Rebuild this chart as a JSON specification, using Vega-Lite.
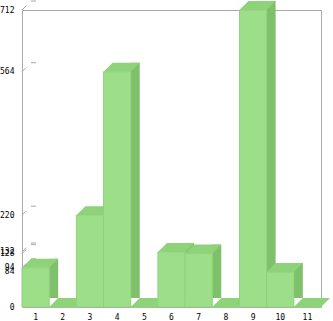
{
  "$schema": "https://vega.github.io/schema/vega-lite/v6.json",
  "width": 299,
  "height": 297,
  "autosize": {"type": "none"},
  "padding": {"left": 22, "top": 10, "right": 12, "bottom": 14},
  "background": "white",
  "config": {
    "view": {"stroke": "#aaaaaa", "strokeWidth": 1},
    "axis": {"ticks": false, "domain": false, "grid": false, "labelFont": "DejaVu Sans Mono", "labelFontSize": 8, "labelColor": "#000000"}
  },
  "datasets": {
    "bars": [
      {"cat": 1, "value": 94},
      {"cat": 2, "value": 0},
      {"cat": 3, "value": 220},
      {"cat": 4, "value": 564},
      {"cat": 5, "value": 0},
      {"cat": 6, "value": 132},
      {"cat": 7, "value": 128},
      {"cat": 8, "value": 0},
      {"cat": 9, "value": 712},
      {"cat": 10, "value": 84},
      {"cat": 11, "value": 0}
    ],
    "ticks": [
      {"v": 0}, {"v": 84}, {"v": 94}, {"v": 128}, {"v": 132}, {"v": 220}, {"v": 564}, {"v": 712}
    ]
  },
  "resolve": {"scale": {"x": "independent"}},
  "layer": [
    {
      "mark": {"type": "rect", "fill": null, "stroke": "#aaaaaa", "strokeWidth": 1, "xOffset": 9, "x2Offset": 9, "yOffset": -9, "y2Offset": -9},
      "encoding": {
        "x": {"datum": 0, "type": "quantitative", "scale": {"domain": [0, 11]}, "axis": null},
        "x2": {"datum": 11},
        "y": {"datum": 0, "type": "quantitative", "scale": {"domain": [0, 712], "nice": false}, "axis": {"title": null, "values": [0, 84, 94, 128, 132, 220, 564, 712], "labelOverlap": false, "labelFlush": false, "labelPadding": 8}},
        "y2": {"datum": 712}
      }
    },
    {
      "data": {"name": "ticks"},
      "mark": {"type": "rule", "stroke": "#aaaaaa", "strokeWidth": 1, "strokeDash": [6, 60], "x2Offset": 9, "y2Offset": -9},
      "encoding": {
        "x": {"datum": 0, "type": "quantitative", "scale": {"domain": [0, 11]}, "axis": null},
        "x2": {"datum": 0},
        "y": {"field": "v", "type": "quantitative", "axis": {"title": null, "values": [0, 84, 94, 128, 132, 220, 564, 712], "labelOverlap": false, "labelFlush": false, "labelPadding": 8}},
        "y2": {"field": "v"}
      }
    },
    {
      "data": {"name": "ticks"},
      "mark": {"type": "rule", "stroke": "#aaaaaa", "strokeWidth": 1, "xOffset": 9, "x2Offset": 14, "yOffset": -9},
      "encoding": {
        "x": {"datum": 0, "type": "quantitative", "scale": {"domain": [0, 11]}, "axis": null},
        "x2": {"datum": 0},
        "y": {"field": "v", "type": "quantitative", "axis": {"title": null, "values": [0, 84, 94, 128, 132, 220, 564, 712], "labelOverlap": false, "labelFlush": false, "labelPadding": 8}}
      }
    },
    {
      "mark": {"type": "rule", "stroke": "#aaaaaa", "strokeWidth": 1, "x2Offset": 9, "y2Offset": -9},
      "encoding": {
        "x": {"datum": 0, "type": "quantitative", "scale": {"domain": [0, 11]}, "axis": null},
        "x2": {"datum": 0},
        "y": {"datum": 712, "type": "quantitative", "axis": {"title": null, "values": [0, 84, 94, 128, 132, 220, 564, 712], "labelOverlap": false, "labelFlush": false, "labelPadding": 8}},
        "y2": {"datum": 712}
      }
    },
    {
      "mark": {"type": "rule", "stroke": "#aaaaaa", "strokeWidth": 1, "x2Offset": 9, "y2Offset": -9},
      "encoding": {
        "x": {"datum": 11, "type": "quantitative", "scale": {"domain": [0, 11]}, "axis": null},
        "x2": {"datum": 11},
        "y": {"datum": 712, "type": "quantitative", "axis": {"title": null, "values": [0, 84, 94, 128, 132, 220, 564, 712], "labelOverlap": false, "labelFlush": false, "labelPadding": 8}},
        "y2": {"datum": 712}
      }
    },
    {
      "mark": {"type": "rule", "stroke": "#aaaaaa", "strokeWidth": 1, "x2Offset": 9, "y2Offset": -9},
      "encoding": {
        "x": {"datum": 11, "type": "quantitative", "scale": {"domain": [0, 11]}, "axis": null},
        "x2": {"datum": 11},
        "y": {"datum": 0, "type": "quantitative", "axis": {"title": null, "values": [0, 84, 94, 128, 132, 220, 564, 712], "labelOverlap": false, "labelFlush": false, "labelPadding": 8}},
        "y2": {"datum": 0}
      }
    },
    {
      "data": {"name": "bars"},
      "transform": [{"filter": "datum.value > 0"}],
      "mark": {"type": "bar", "color": "#7fc16a", "width": 9, "xOffset": 18.09, "yOffset": -9},
      "encoding": {
        "x": {"field": "cat", "type": "ordinal", "scale": {"domain": [1, 2, 3, 4, 5, 6, 7, 8, 9, 10, 11], "paddingInner": 0, "paddingOuter": 0}, "axis": null},
        "y": {"field": "value", "type": "quantitative", "axis": {"title": null, "values": [0, 84, 94, 128, 132, 220, 564, 712], "labelOverlap": false, "labelFlush": false, "labelPadding": 8}}
      }
    },
    {
      "data": {"name": "bars"},
      "mark": {"type": "point", "filled": true, "opacity": 1, "color": "#8ed279", "size": 4, "shape": "M-13.59,0L13.59,0L22.59,-9L-4.59,-9Z"},
      "encoding": {
        "x": {"field": "cat", "type": "ordinal", "scale": {"domain": [1, 2, 3, 4, 5, 6, 7, 8, 9, 10, 11], "paddingInner": 0, "paddingOuter": 0}, "axis": null},
        "y": {"field": "value", "type": "quantitative", "axis": {"title": null, "values": [0, 84, 94, 128, 132, 220, 564, 712], "labelOverlap": false, "labelFlush": false, "labelPadding": 8}}
      }
    },
    {
      "data": {"name": "bars"},
      "mark": {"type": "bar", "color": "#9dde88", "stroke": "#90d27b", "strokeWidth": 1},
      "encoding": {
        "x": {"field": "cat", "type": "ordinal", "scale": {"domain": [1, 2, 3, 4, 5, 6, 7, 8, 9, 10, 11], "paddingInner": 0, "paddingOuter": 0}, "axis": {"title": null, "labelAngle": 0, "labelPadding": 6}},
        "y": {"field": "value", "type": "quantitative", "axis": {"title": null, "values": [0, 84, 94, 128, 132, 220, 564, 712], "labelOverlap": false, "labelFlush": false, "labelPadding": 8}}
      }
    }
  ]
}
